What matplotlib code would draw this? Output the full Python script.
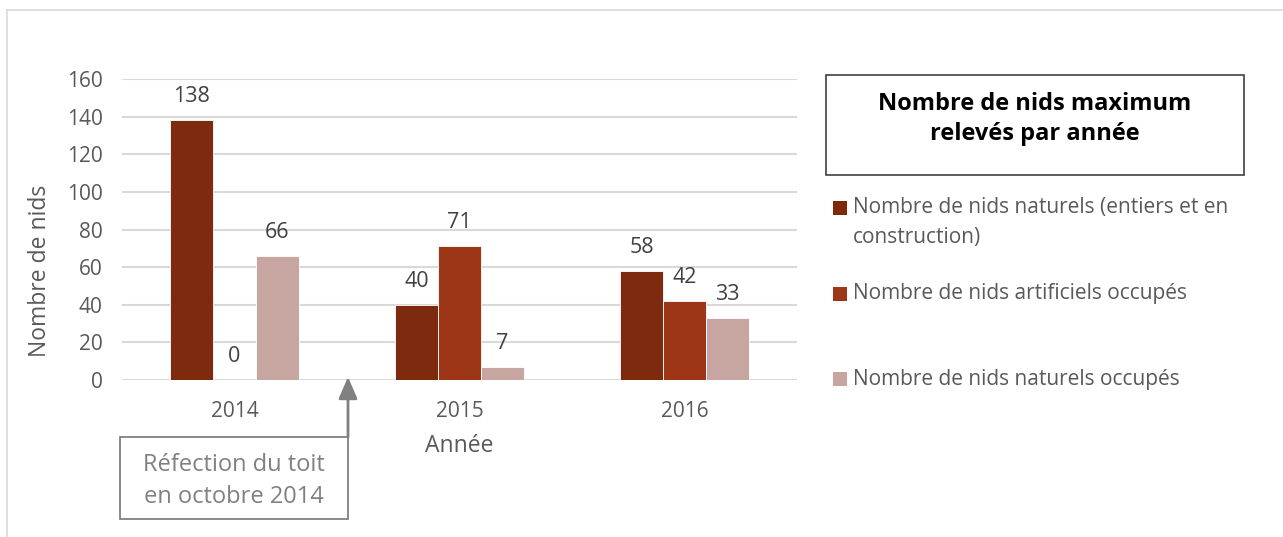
import numpy as np
import matplotlib.pyplot as plt
from matplotlib.patches import Rectangle, FancyArrowPatch

plt.rcParams['font.family'] = ['Open Sans', 'DejaVu Sans']

# --- Données ---
annees = ['2014', '2015', '2016']
series = ['Nombre de nids naturels (entiers et en\nconstruction)',
          'Nombre de nids artificiels occupés',
          'Nombre de nids naturels occupés']
naturels = [138, 40, 58]
artificiels = [0, 71, 42]
naturels_occupes = [66, 7, 33]
couleurs = ['#7E2A0E', '#9D3617', '#C7A5A0']

W, H = 1283, 537
fig = plt.figure(figsize=(W / 100, H / 100), dpi=100)


def fx(x):
    return x / W


def fy(y):
    return 1 - y / H


# cadre extérieur
fig.add_artist(plt.Line2D([fx(7), fx(1283)], [fy(10), fy(10)], color='#D9D9D9', lw=1.2))
fig.add_artist(plt.Line2D([fx(7), fx(7)], [fy(10), fy(537)], color='#D9D9D9', lw=1.2))

ax = fig.add_axes([fx(122), fy(380), fx(797) - fx(122), fy(79) - fy(380)])
x = np.arange(len(annees))
largeur = 0.191
gris = '#595959'

for i, vals in enumerate([naturels, artificiels, naturels_occupes]):
    pos = x + (i - 1) * largeur
    ax.bar(pos, vals, largeur, color=couleurs[i], edgecolor='white', linewidth=0.6, zorder=3)
    for p, v in zip(pos, vals):
        ax.annotate(str(v), (p, v), xytext=(0, 17), textcoords='offset points',
                    ha='center', va='center', fontsize=15.5, color='#404040')

ax.set_xlim(-0.5, 2.5)
ax.set_ylim(0, 160)
ax.set_yticks(range(0, 161, 20))
ax.set_xticks(x)
ax.set_xticklabels(annees)
ax.grid(axis='y', color='#D9D9D9', lw=1.5, zorder=0)
ax.set_axisbelow(True)
for s in ['top', 'right', 'left', 'bottom']:
    ax.spines[s].set_visible(False)
ax.tick_params(axis='both', length=0, labelsize=15, labelcolor=gris)
ax.tick_params(axis='y', pad=14)
ax.tick_params(axis='x', pad=15)
ax.set_xlabel('Année', fontsize=16.5, color=gris, labelpad=9)
ax.set_ylabel('Nombre de nids', fontsize=16.5, color=gris, va='center')
ax.yaxis.set_label_coords((40 - 122) / 675, (380 - 271) / 301)

# titre encadré
fig.add_artist(Rectangle((fx(826), fy(175)), fx(1244) - fx(826), fy(75) - fy(175),
                         transform=fig.transFigure, fill=False, edgecolor='#404040', lw=1.2))
fig.text(fx(1035), fy(119), 'Nombre de nids maximum\nrelevés par année', ha='center', va='center',
         fontsize=17, fontweight='bold', color='black', linespacing=1.3)

# légende
leg_y = [208, 294, 379]
for c, lab, yy in zip(couleurs, series, leg_y):
    fig.add_artist(Rectangle((fx(833), fy(yy + 7)), fx(14), 14 / H, transform=fig.transFigure,
                             facecolor=c, edgecolor='none'))
    lignes = lab.split('\n')
    for k, l in enumerate(lignes):
        fig.text(fx(853), fy(yy + 30 * k), l, ha='left', va='center', fontsize=15, color=gris)

# annotation
fig.add_artist(Rectangle((fx(120), fy(519)), fx(348) - fx(120), fy(437) - fy(519),
                         transform=fig.transFigure, fill=False, edgecolor='#808080', lw=1.3))
fig.text(fx(234), fy(481), 'Réfection du toit\nen octobre 2014', ha='center', va='center',
         fontsize=17, color='#808080', linespacing=1.4)
fig.add_artist(FancyArrowPatch((fx(348), fy(437)), (fx(348), fy(377)), transform=fig.transFigure,
                               arrowstyle='-|>,head_length=6,head_width=2.6', mutation_scale=2.2,
                               color='#808080', lw=2, shrinkA=0, shrinkB=0))

fig.savefig('out.png', dpi=100)
